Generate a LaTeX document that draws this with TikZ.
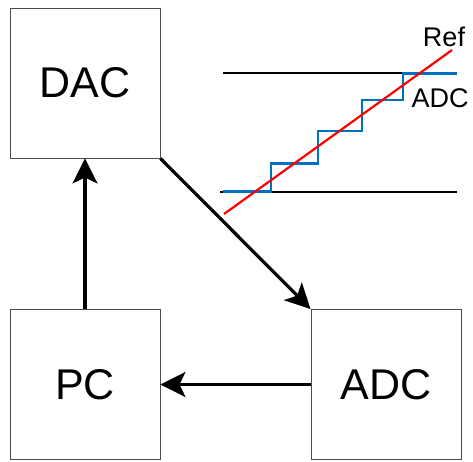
\documentclass[tikz,border=0pt]{standalone}
\usepackage{fontspec}
\setmainfont{Liberation Sans}
\usetikzlibrary{arrows.meta}
\definecolor{stairblue}{RGB}{0,112,192}
\begin{document}
\begin{tikzpicture}[x=1pt,y=-1pt,
  blk/.style={draw=black!70,line width=0.9pt,minimum width=150pt,minimum height=150pt,inner sep=0pt,font=\fontsize{43}{48}\selectfont},
  arr/.style={line width=3.2pt,-{Stealth[length=25pt,width=25pt,inset=6pt]}},
  lim/.style={line width=2.2pt,black},
  lbl/.style={font=\fontsize{27}{30}\selectfont,inner sep=0pt}]
\useasboundingbox (0,0) rectangle (473,461);
\node[blk] (dac) at (85,83) {DAC};
\node[blk] (pc) at (85,384.5) {PC};
\node[blk] (adc) at (386,384.5) {ADC};
\draw[arr] (pc.north) -- (dac.south);
\draw[arr] (dac.south east) -- (adc.north west);
\draw[arr] (adc.west) -- (pc.east);
% inset plot
\coordinate (ul) at (223,73.3); \coordinate (ur) at (457,73.3);
\coordinate (ll) at (220,191.7); \coordinate (lr) at (457,191.7);
\draw[lim] (ul) -- (ur);
\draw[lim] (ll) -- (lr);
\draw[stairblue,line width=2.8pt] (223,191.7) -- (271,191.7) -- (271,163.3) -- (318,163.3) -- (318,131) -- (362,131) -- (362,100) -- (403,100) -- (403,73.3) -- (457,73.3);
\draw[red,line width=2.2pt] (224,214) -- (452,50);
\node[lbl] (ref) at (444,37) {Ref};
\node[lbl] (adcl) at (440,98) {ADC};
\end{tikzpicture}
\end{document}
